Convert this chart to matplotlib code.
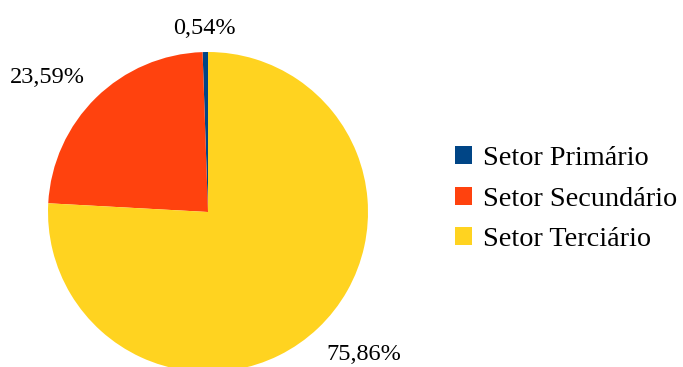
import matplotlib.pyplot as plt
import numpy as np

sectors = ["Setor Primário", "Setor Secundário", "Setor Terciário"]
shares = [0.54, 23.59, 75.86]
labels = ["0,54%", "23,59%", "75,86%"]
colors = ["#004586", "#FF420E", "#FFD320"]

plt.rcParams["font.family"] = ["Liberation Serif", "DejaVu Serif"]

W, H = 683, 367
fig = plt.figure(figsize=(W / 100, H / 100), dpi=100)

# pie centre (208, 212) px from top-left, radius 160 px
cx, cy, r = 208, H - 212, 160
ax = fig.add_axes([(cx - r) / W, (cy - r) / H, 2 * r / W, 2 * r / H])
wedges, _ = ax.pie(shares, colors=colors, startangle=90, counterclock=True,
                   radius=1.0, wedgeprops=dict(linewidth=0))
ax.set_xlim(-1, 1)
ax.set_ylim(-1, 1)
ax.set_aspect("equal")
ax.axis("off")

# label placement: (angle offset from wedge mid, distance)
label_pos = [(0.0, 1.15), (5.5, 1.31), (4.3, 1.32)]
for w, lab, (dang, dist) in zip(wedges, labels, label_pos):
    mid = (w.theta1 + w.theta2) / 2 + dang
    x = dist * np.cos(np.deg2rad(mid))
    y = dist * np.sin(np.deg2rad(mid))
    ax.text(x, y, lab, ha="center", va="center", fontsize=17.5, clip_on=False)

fig.legend(wedges, sectors, loc="center left", bbox_to_anchor=(455 / W, 1 - 199 / H),
           frameon=False, fontsize=20.3, handlelength=0.6, handleheight=0.6,
           handletextpad=0.38, labelspacing=0.56, borderpad=0, borderaxespad=0)

fig.savefig("out.png", dpi=100)
